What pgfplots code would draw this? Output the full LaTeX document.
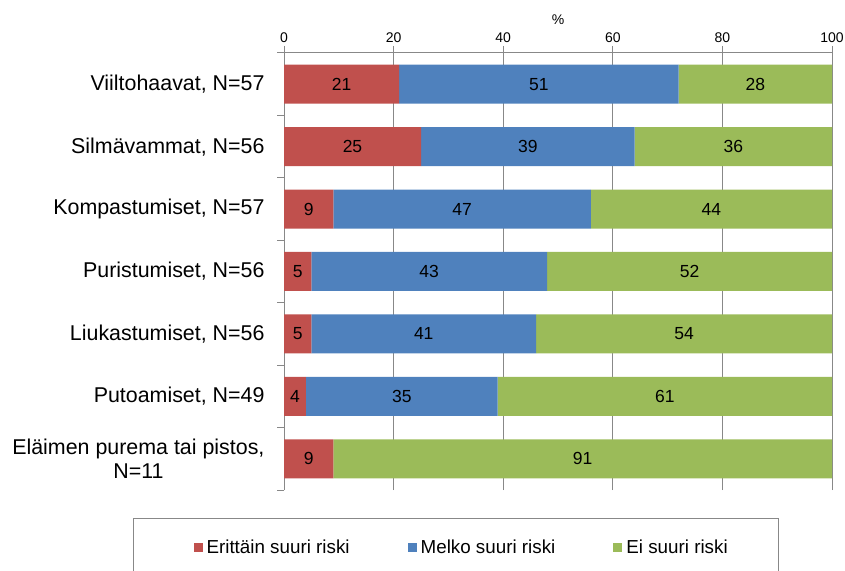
\documentclass[border=0pt]{standalone}
\usepackage{pgfplots}
\pgfplotsset{compat=1.18}
\usepackage{pgfplotstable}
\usepackage{fontspec}
\setmainfont{Liberation Sans}
\definecolor{cred}{HTML}{C0504D}
\definecolor{cblue}{HTML}{4F81BD}
\definecolor{cgreen}{HTML}{9BBB59}
\definecolor{axisgray}{HTML}{888888}

\pgfplotstableread{
y v
6 21
5 25
4 9
3 5
2 5
1 4
0 9
}\tred
\pgfplotstableread{
y v
6 51
5 39
4 47
3 43
2 41
1 35
0 0
}\tblue
\pgfplotstableread{
y v
6 28
5 36
4 44
3 52
2 54
1 61
0 91
}\tgreen

\begin{document}
\begin{tikzpicture}
\begin{axis}[
  at={(284pt,80pt)}, anchor=south west,
  width=548pt, height=437pt, scale only axis,
  xbar stacked, bar width=39pt,
  xmin=0, xmax=100, ymin=-0.5, ymax=6.5,
  axis x line*=top, axis y line*=left,
  axis line style={draw=axisgray, line width=1pt},
  tick style={draw=axisgray, line width=1pt},
  tick align=outside,
  major tick length=7pt,
  xtick={0,20,...,100},
  xmajorgrids, grid style={draw=axisgray, line width=1pt},
  xlabel={\%},
  xlabel style={at={(axis description cs:0.5,1)}, anchor=center, yshift=33pt, font=\fontsize{14}{16}\selectfont},
  xticklabel style={font=\fontsize{14}{16}\selectfont},
  /pgf/number format/assume math mode=true,
  ytick={-0.5,0.5,...,6.5},
  y tick label as interval,
  yticklabels={{Eläimen purema tai pistos,\\N=11},{Putoamiset, N=49},{Liukastumiset, N=56},{Puristumiset, N=56},{Kompastumiset, N=57},{Silmävammat, N=56},{Viiltohaavat, N=57},{}},
  yticklabel style={font=\fontsize{21.4}{24.5}\selectfont, align=center, xshift=-9pt},
  point meta=explicit,
  visualization depends on={\thisrow{v} \as \rawv},
  nodes near coords={\ifdim\rawv pt>0.5pt\pgfmathprintnumber{\rawv}\fi},
  nodes near coords align={center},
  every node near coord/.append style={font=\fontsize{17.5}{19}\selectfont, black, anchor=center},
  legend style={at={(-0.2755,-0.0641)}, anchor=north west, draw=axisgray, line width=1pt,
    font=\fontsize{18.8}{20}\selectfont, legend columns=3,
    inner xsep=47pt, inner ysep=19pt,
    nodes={inner xsep=4pt, inner ysep=2pt},
    /tikz/every even column/.append style={column sep=41pt}},
  legend image code/.code={\path (0pt,0pt); \fill[#1] (13pt,-4.5pt) rectangle (22pt,4.5pt);},
]
\addplot[fill=cred, draw=none] table[x=v, y=y, meta=v] {\tred};
\addlegendentry{Erittäin suuri riski}
\addplot[fill=cblue, draw=none] table[x=v, y=y, meta=v] {\tblue};
\addlegendentry{Melko suuri riski}
\addplot[fill=cgreen, draw=none] table[x=v, y=y, meta=v] {\tgreen};
\addlegendentry{Ei suuri riski}
\end{axis}
\pgfresetboundingbox
\useasboundingbox (0,0) rectangle (845pt,570pt);
\end{tikzpicture}
\end{document}
